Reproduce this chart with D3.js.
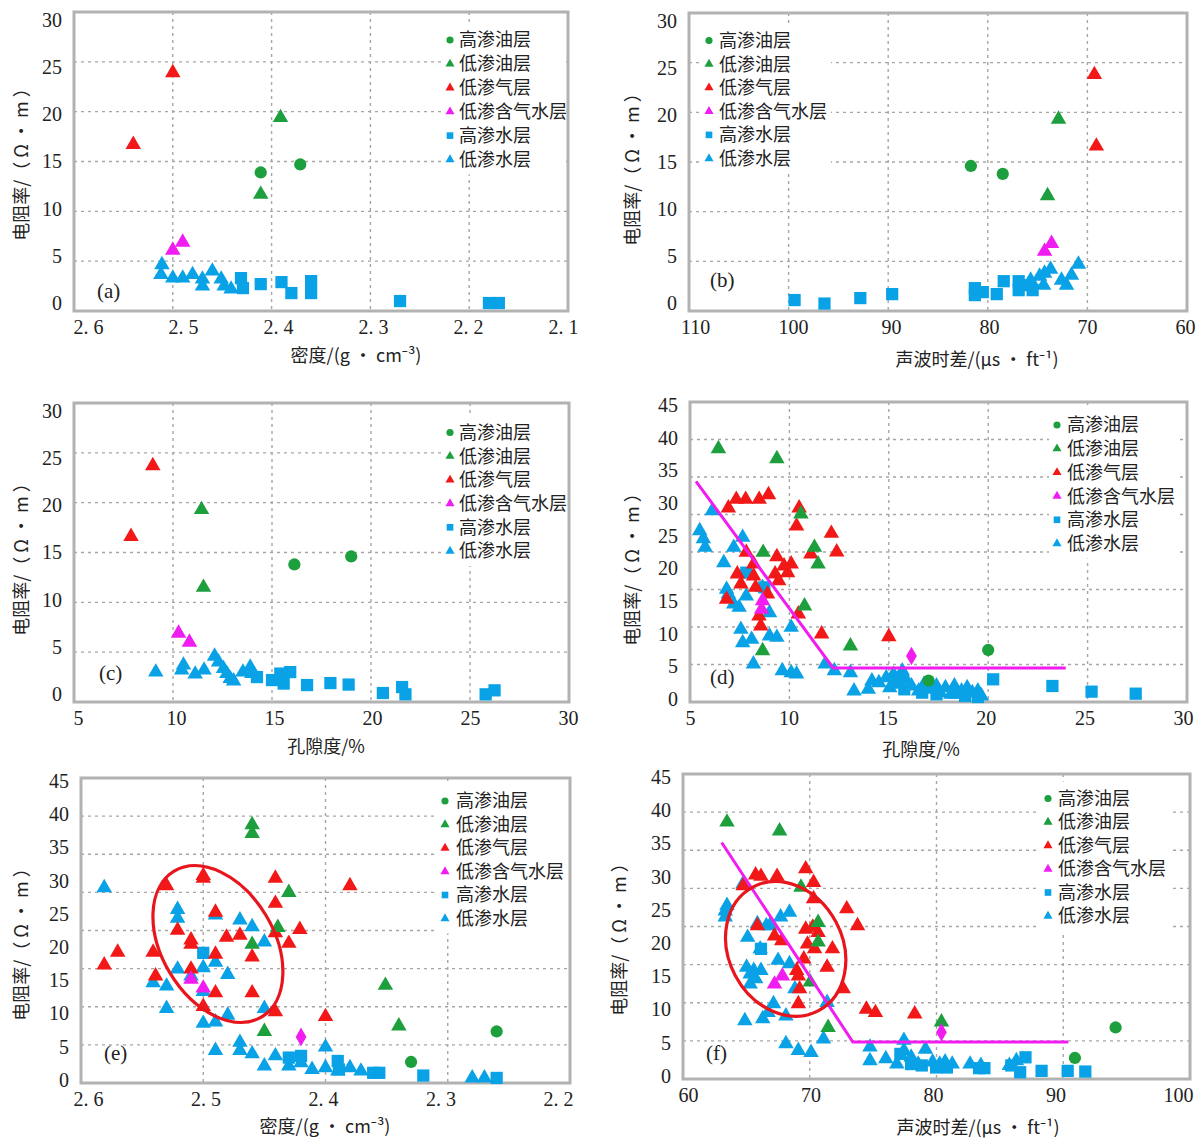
<!DOCTYPE html>
<html>
<head>
<meta charset="utf-8">
<script src="https://cdn.jsdelivr.net/npm/d3@7"></script>
<style>
  body { margin: 0; background: #fff; }
</style>
</head>
<body>
<div id="chart"></div>
<script>
// ---- series / categories ----
const seriesNames = ["高渗油层", "低渗油层", "低渗气层", "低渗含气水层", "高渗水层", "低渗水层"];

// ---- tick labels ----
const densityTicksA = [2.6, 2.5, 2.4, 2.3, 2.2, 2.1];
const densityTicksE = [2.6, 2.5, 2.4, 2.3, 2.2];
const sonicTicksB = [110, 100, 90, 80, 70, 60];
const sonicTicksF = [60, 70, 80, 90, 100];
const porosityTicks = [5, 10, 15, 20, 25, 30];
const resTicks30 = [0, 5, 10, 15, 20, 25, 30];
const resTicks45 = [0, 5, 10, 15, 20, 25, 30, 35, 40, 45];

// ---- (a) density vs resistivity ----
const aHiOil = [[2.411, 13.9], [2.371, 14.7]];
const aLoOil = [[2.391, 19.4], [2.411, 11.7]];
const aLoGas = [[2.50, 23.9], [2.54, 16.7]];
const aGasWater = [[2.50, 6.1], [2.49, 6.9]];
const aHiWater = [[2.431, 3.3], [2.429, 2.3], [2.411, 2.7], [2.39, 2.9], [2.38, 1.8], [2.36, 3.0], [2.36, 1.8],
  [2.27, 1.0], [2.18, 0.8], [2.17, 0.8]];
const aLoWater = [[2.511, 4.65], [2.512, 3.65], [2.50, 3.3], [2.49, 3.3], [2.48, 3.65], [2.47, 3.2], [2.47, 2.5],
  [2.46, 4.0], [2.451, 3.2], [2.448, 2.5], [2.441, 2.2]];

// ---- (b) sonic vs resistivity ----
const bHiOil = [[81.7, 14.6], [78.5, 13.8]];
const bLoOil = [[72.9, 19.3], [74.0, 11.6]];
const bLoGas = [[69.3, 23.8], [69.1, 16.6]];
const bGasWater = [[74.3, 6.0], [73.6, 6.8]];
const bHiWater = [[99.4, 1.1], [96.4, 0.75], [92.8, 1.3], [89.6, 1.7], [81.3, 2.3], [81.3, 1.6], [80.5, 1.9],
  [79.1, 1.7], [78.4, 3.0], [76.9, 3.0], [76.9, 2.1], [76.0, 2.6], [75.5, 2.1]];
const bLoWater = [[75.7, 3.1], [74.8, 3.5], [74.3, 3.8], [73.7, 4.2], [74.4, 2.6], [72.6, 3.1], [72.1, 2.6],
  [71.6, 3.6], [70.9, 4.7]];

// ---- (c) porosity vs resistivity ----
const cHiOil = [[16.13, 13.8], [19.0, 14.6]];
const cLoOil = [[11.44, 19.3], [11.54, 11.5]];
const cLoGas = [[8.98, 23.7], [7.88, 16.6]];
const cGasWater = [[10.28, 6.9], [10.83, 6.0]];
const cHiWater = [[14.24, 2.5], [15.0, 2.2], [15.42, 2.85], [15.59, 1.85], [15.92, 3.0], [16.77, 1.7], [17.95, 1.9],
  [18.87, 1.75], [20.6, 0.9], [21.57, 1.5], [21.74, 0.77], [25.79, 0.77], [26.24, 1.17]];
const cLoWater = [[9.13, 3.0], [10.53, 3.7], [10.44, 3.2], [11.12, 2.8], [11.57, 3.2], [12.10, 4.6], [12.30, 4.0],
  [12.55, 3.35], [12.72, 2.85], [12.89, 2.35], [13.06, 2.1], [13.53, 3.0], [13.9, 3.5], [13.98, 2.85]];

// ---- (d) porosity vs resistivity, full set ----
const dHiOil = [[20.0, 7.8], [17.0, 3.2]];
const dLoOil = [[6.43, 38.0], [9.37, 36.5], [8.68, 22.45], [10.58, 28.2], [11.26, 23.2], [11.44, 20.7],
  [10.76, 14.4], [8.65, 7.7], [13.07, 8.4]];
const dLoGas = [[6.93, 29.1], [7.33, 30.4], [7.80, 30.4], [8.48, 30.4], [8.95, 31.1], [10.49, 29.1], [10.36, 26.4],
  [12.11, 25.3], [12.38, 22.5], [11.08, 22.2], [9.37, 21.8], [9.73, 20.4], [10.09, 20.7], [9.91, 19.4], [9.28, 19.2],
  [9.46, 18.2], [7.38, 19.2], [7.56, 17.7], [8.2, 20.7], [8.3, 17.2], [7.83, 22.45], [8.9, 16.2], [8.47, 12.9],
  [8.56, 11.4], [10.45, 13.2], [11.62, 10.2], [15.0, 9.8], [6.84, 15.4], [8.2, 18.9]];
const dGasWater = [[8.65, 15.2], [8.6, 13.9]];
const dGasWaterDiamond = [[16.14, 6.9]];
const dHiWater = [[7.83, 19.4], [8.74, 17.2], [15.41, 3.65], [15.78, 1.9], [16.68, 1.4], [17.4, 1.15], [18.3, 1.4],
  [18.84, 0.9], [19.48, 0.75], [20.25, 3.4], [23.23, 2.4], [25.2, 1.55], [27.42, 1.25]];
const dLoWater = [[5.49, 25.7], [5.67, 24.5], [5.76, 23.2], [6.12, 28.7], [6.70, 20.9], [7.20, 23.2], [7.65, 24.7],
  [6.84, 16.9], [6.93, 16.2], [7.20, 14.7], [7.47, 14.2], [7.83, 15.9], [7.56, 10.9], [7.65, 8.9], [8.10, 9.4],
  [8.19, 5.7], [9.0, 13.4], [9.0, 9.9], [9.37, 9.7], [8.65, 17.2], [9.64, 4.7], [10.09, 4.4], [10.36, 4.2],
  [10.09, 11.2], [11.8, 5.7], [12.26, 4.7], [13.07, 4.4], [13.25, 1.65], [13.97, 1.9], [14.15, 3.15], [14.5, 2.9],
  [14.87, 3.65], [15.05, 2.15], [15.23, 4.15], [15.41, 2.65], [15.68, 4.66], [15.86, 3.4], [16.14, 2.4], [16.5, 1.65],
  [16.77, 2.65], [17.13, 1.9], [17.4, 2.4], [17.58, 1.4], [17.85, 2.15], [18.12, 1.15], [18.3, 2.4], [18.66, 1.65],
  [18.94, 2.15], [19.2, 1.4], [19.48, 1.65], [19.66, 0.9]];
const dCutLine = [[5.3, 33.1], [12.2, 5.1], [23.9, 5.1]];

// ---- (e) density vs resistivity, full set ----
const eHiOil = [[2.26, 7.6], [2.33, 3.1]];
const eLoOil = [[2.46, 38.1], [2.46, 36.8], [2.430, 28.1], [2.439, 22.95], [2.46, 20.45], [2.351, 14.4],
  [2.340, 8.4], [2.450, 7.6]];
const eLoGas = [[2.581, 17.4], [2.570, 19.3], [2.541, 19.3], [2.539, 15.8], [2.530, 29.1], [2.521, 22.55],
  [2.510, 21.1], [2.510, 20.45], [2.510, 16.8], [2.50, 30.6], [2.50, 30.2], [2.49, 25.2], [2.49, 19.0], [2.49, 13.3],
  [2.50, 11.3], [2.481, 21.5], [2.470, 21.8], [2.460, 18.6], [2.460, 13.3], [2.441, 30.2], [2.441, 26.5],
  [2.441, 22.15], [2.430, 20.6], [2.421, 22.65], [2.441, 10.5], [2.40, 9.8], [2.380, 29.1]];
const eGasWater = [[2.510, 15.3], [2.50, 14.0]];
const eGasWaterDiamond = [[2.420, 6.8]];
const eHiWater = [[2.50, 19.2], [2.430, 3.75], [2.420, 4.0], [2.390, 3.25], [2.389, 2.0], [2.361, 1.5],
  [2.356, 1.5], [2.320, 1.1], [2.260, 0.75]];
const eLoWater = [[2.581, 28.8], [2.521, 25.6], [2.521, 24.3], [2.541, 14.8], [2.530, 14.3], [2.530, 11.0],
  [2.521, 16.8], [2.510, 15.8], [2.50, 17.0], [2.50, 13.5], [2.49, 24.8], [2.49, 17.8], [2.480, 16.0], [2.470, 24.05],
  [2.460, 23.05], [2.450, 20.8], [2.450, 11.0], [2.480, 10.0], [2.50, 8.8], [2.49, 9.0], [2.49, 4.8], [2.470, 6.0],
  [2.470, 4.8], [2.460, 4.3], [2.450, 2.5], [2.441, 4.0], [2.430, 2.5], [2.420, 3.0], [2.411, 2.0], [2.40, 5.3],
  [2.40, 2.25], [2.390, 1.75], [2.380, 2.25], [2.371, 1.75], [2.280, 0.75], [2.270, 0.75]];

// ---- (f) sonic vs resistivity, full set ----
const fHiOil = [[94.13, 7.6], [90.92, 3.1]];
const fLoOil = [[63.47, 37.9], [67.62, 36.6], [69.31, 28.3], [70.66, 23.1], [70.66, 20.2], [70.04, 14.3],
  [71.45, 7.6], [80.39, 8.4]];
const fLoGas = [[64.74, 28.5], [65.73, 30.1], [66.15, 29.9], [67.42, 29.9], [69.68, 31.0], [70.30, 29.0],
  [70.30, 26.6], [72.92, 25.1], [73.77, 22.6], [65.87, 22.6], [67.22, 21.1], [67.79, 20.4], [69.68, 22.1],
  [70.24, 22.4], [70.66, 21.6], [69.82, 19.9], [70.38, 19.2], [71.79, 19.2], [71.37, 16.5], [68.97, 16.0],
  [69.53, 17.7], [69.2, 13.3], [69.1, 11.1], [72.64, 13.3], [74.47, 10.3], [75.18, 9.8], [78.28, 9.6], [69.1, 15.2]];
const fGasWater = [[67.22, 14.0], [67.84, 15.2]];
const fGasWaterDiamond = [[80.39, 6.9]];
const fHiWater = [[66.15, 19.2], [77.15, 3.7], [78.0, 2.2], [78.84, 2.0], [79.97, 1.7], [80.82, 1.7], [83.36, 1.6],
  [83.78, 1.6], [85.9, 2.0], [86.6, 1.0], [87.02, 3.2], [88.29, 1.2], [90.35, 1.2], [91.74, 1.1]];
const fLoWater = [[63.33, 24.8], [63.47, 25.6], [63.33, 23.9], [64.74, 28.8], [65.1, 20.9], [65.02, 16.5],
  [65.3, 15.5], [65.58, 16.0], [66.15, 16.0], [65.73, 14.8], [65.3, 14.0], [65.87, 22.9], [66.57, 22.6],
  [66.85, 22.6], [66.09, 19.2], [67.7, 23.9], [68.4, 24.6], [67.5, 17.5], [68.4, 17.0], [68.83, 13.3], [67.14, 11.1],
  [64.88, 8.6], [66.29, 8.9], [66.71, 9.8], [68.12, 9.3], [68.12, 5.2], [69.1, 4.2], [70.1, 3.9], [71.08, 5.9],
  [71.37, 11.3], [74.75, 4.7], [74.75, 2.7], [76.0, 3.0], [76.87, 2.2], [77.43, 5.7], [77.43, 4.2], [78.0, 3.2],
  [78.56, 2.2], [79.13, 4.4], [79.69, 2.5], [80.25, 2.2], [80.68, 2.5], [81.24, 2.2], [82.65, 2.2], [83.5, 2.0],
  [85.75, 2.0], [86.3, 2.7]];
const fCutLine = [[63.05, 34.9], [73.4, 5.45], [90.4, 5.45]];

// ---- styles ----
const seriesColors = ["#1d9f3e", "#1d9f3e", "#f21818", "#f01cf0", "#0aa2e6", "#0aa2e6"];
const seriesShapes = [d3.symbolCircle, d3.symbolTriangle, d3.symbolTriangle, d3.symbolTriangle, d3.symbolSquare, d3.symbolTriangle];
const markSizes = [118, 104, 104, 104, 150, 104];
const legendSizes = [40, 36, 36, 36, 44, 36];
const drawOrder = [4, 5, 2, 1, 3, 0];

const cjk = "'Noto Sans CJK SC', 'Noto Sans', sans-serif";
const serif = "'Liberation Serif', 'DejaVu Serif', serif";
const decFmt = d => d3.format(".1f")(d).replace(".", ". ");
const intFmt = d3.format("d");
const grid45 = d3.range(1, 8).map(k => k * 45 / 8);

const densityTitle = "密度/(g • cm⁻³)";
const sonicTitle = "声波时差/(μs • ft⁻¹)";
const porosityTitle = "孔隙度/%";
const resTitle = "电阻率/（ Ω • m ）";

const panels = [
  { tag: "(a)", left: 74, right: 568, top: 12, bottom: 311, xDomain: [2.6, 2.1], yDomain: [0, 30],
    xTicks: densityTicksA, yTicks: resTicks30, yGrid: resTicks30.slice(1, -1), xFmt: decFmt,
    series: [aHiOil, aLoOil, aLoGas, aGasWater, aHiWater, aLoWater], diamond: [],
    xTitle: densityTitle, xTitlePos: [356, 356], yTitlePos: [22, 160], legend: [450, 459, 40, 23.9],
    tagPos: [97, 291], yInset: 8, xInset: [14, -5] },
  { tag: "(b)", left: 689, right: 1187, top: 13, bottom: 311, xDomain: [110, 60], yDomain: [0, 30],
    xTicks: sonicTicksB, yTicks: resTicks30, yGrid: resTicks30.slice(1, -1), xFmt: intFmt,
    series: [bHiOil, bLoOil, bLoGas, bGasWater, bHiWater, bLoWater], diamond: [],
    xTitle: sonicTitle, xTitlePos: [977, 360], yTitlePos: [633, 165], legend: [709, 719, 40.5, 23.6],
    tagPos: [710, 280], yInset: 8, xInset: [6, -2] },
  { tag: "(c)", left: 74, right: 569, top: 403, bottom: 702, xDomain: [5, 30], yDomain: [0, 30],
    xTicks: porosityTicks, yTicks: resTicks30, yGrid: resTicks30.slice(1, -1), xFmt: intFmt,
    series: [cHiOil, cLoOil, cLoGas, cGasWater, cHiWater, cLoWater], diamond: [],
    xTitle: porosityTitle, xTitlePos: [326, 747], yTitlePos: [22, 555], legend: [450, 459, 432.5, 23.7],
    tagPos: [99, 673], yInset: 8, xInset: [4, -1] },
  { tag: "(d)", left: 690, right: 1187, top: 402, bottom: 702, xDomain: [5, 30], yDomain: [0, 45],
    xTicks: porosityTicks, yTicks: resTicks45, yGrid: grid45, xFmt: intFmt,
    series: [dHiOil, dLoOil, dLoGas, dGasWater, dHiWater, dLoWater], diamond: dGasWaterDiamond, cut: dCutLine,
    xTitle: porosityTitle, xTitlePos: [921, 750], yTitlePos: [633, 565], legend: [1057, 1067, 425, 23.7],
    tagPos: [710, 677], yInset: 3, xInset: [0, -4] },
  { tag: "(e)", left: 81, right: 570, top: 778, bottom: 1083, xDomain: [2.6, 2.2], yDomain: [0, 45],
    xTicks: densityTicksE, yTicks: resTicks45, yGrid: grid45, xFmt: decFmt,
    series: [eHiOil, eLoOil, eLoGas, eGasWater, eHiWater, eLoWater], diamond: eGasWaterDiamond,
    ellipse: { c: [2.488, 20.5], rx: 85, ry: 56, rot: 59 },
    xTitle: densityTitle, xTitlePos: [325, 1127], yTitlePos: [22, 940], legend: [445, 456, 801, 23.5],
    tagPos: [104, 1053], yInset: 3, xInset: [7, -12] },
  { tag: "(f)", left: 683, right: 1190, top: 774, bottom: 1079, xDomain: [60, 100], yDomain: [0, 45],
    xTicks: sonicTicksF, yTicks: resTicks45, yGrid: grid45, xFmt: intFmt,
    series: [fHiOil, fLoOil, fLoGas, fGasWater, fHiWater, fLoWater], diamond: fGasWaterDiamond, cut: fCutLine,
    ellipse: { c: [68.1, 19.2], rx: 70, ry: 57, rot: 62 },
    xTitle: sonicTitle, xTitlePos: [978, 1128], yTitlePos: [620, 935], legend: [1048, 1058, 798.5, 23.5],
    tagPos: [706, 1053], yInset: 3, xInset: [5, -12] }
];

const svg = d3.select("#chart").append("svg")
  .attr("width", 1204)
  .attr("height", 1139)
  .style("background", "#fff");

panels.forEach(p => {
  const g = svg.append("g");
  const x = d3.scaleLinear().domain(p.xDomain).range([p.left, p.right]);
  const y = d3.scaleLinear().domain(p.yDomain).range([p.bottom, p.top]);
  // the printed labels sit slightly inside the grid
  const xLab = x.copy().range([p.left + p.xInset[0], p.right + p.xInset[1]]);
  const yLab = y.copy().range([p.bottom - p.yInset, p.top + p.yInset]);

  // grid
  g.selectAll(".vgrid")
    .data(p.xTicks.slice(1, -1))
    .enter().append("line")
    .attr("x1", d => x(d)).attr("x2", d => x(d))
    .attr("y1", p.top).attr("y2", p.bottom)
    .style("stroke", "#a6a6a6").style("stroke-width", 1.4).style("stroke-dasharray", "3,4");
  g.selectAll(".hgrid")
    .data(p.yGrid)
    .enter().append("line")
    .attr("x1", p.left).attr("x2", p.right)
    .attr("y1", d => y(d)).attr("y2", d => y(d))
    .style("stroke", "#a6a6a6").style("stroke-width", 1.4).style("stroke-dasharray", "3,4");

  // legend box (white, hides the grid behind it)
  const [lmx, ltx, ly0, lstep] = p.legend;
  g.append("rect")
    .attr("x", lmx - 8).attr("y", ly0 - 17)
    .attr("width", Math.min(ltx - lmx + 120, p.right - lmx + 6)).attr("height", lstep * 5 + 32)
    .style("fill", "#fff");

  // frame
  g.append("rect")
    .attr("x", p.left).attr("y", p.top)
    .attr("width", p.right - p.left).attr("height", p.bottom - p.top)
    .style("fill", "none").style("stroke", "#b2b2b2").style("stroke-width", 3);

  // axes
  const xAxis = g.append("g")
    .attr("transform", `translate(0,${p.bottom})`)
    .call(d3.axisBottom(xLab).tickValues(p.xTicks).tickFormat(p.xFmt).tickSize(0).tickPadding(9));
  const yAxis = g.append("g")
    .attr("transform", `translate(${p.left},0)`)
    .call(d3.axisLeft(yLab).tickValues(p.yTicks).tickFormat(intFmt).tickSize(0).tickPadding(12));
  [xAxis, yAxis].forEach(a => {
    a.select(".domain").remove();
    a.selectAll("text").style("font-family", serif).style("font-size", "20px").style("fill", "#222");
  });

  // titles
  g.append("text")
    .attr("x", p.xTitlePos[0]).attr("y", p.xTitlePos[1])
    .attr("dy", "0.35em")
    .style("text-anchor", "middle")
    .style("font-family", cjk).style("font-size", "18px").style("fill", "#222")
    .text(p.xTitle);
  g.append("text")
    .attr("transform", `translate(${p.yTitlePos[0]},${p.yTitlePos[1]}) rotate(-90)`)
    .attr("dy", "0.35em")
    .style("text-anchor", "middle")
    .style("font-family", cjk).style("font-size", "18px").style("fill", "#222")
    .text(resTitle);

  // points
  drawOrder.forEach(i => {
    g.selectAll(".pt" + i)
      .data(p.series[i])
      .enter().append("path")
      .attr("transform", d => `translate(${x(d[0])},${y(d[1])})`)
      .attr("d", d3.symbol().type(seriesShapes[i]).size(markSizes[i]))
      .style("fill", seriesColors[i]);
  });
  g.selectAll(".dia")
    .data(p.diamond)
    .enter().append("path")
    .attr("transform", d => `translate(${x(d[0])},${y(d[1])})`)
    .attr("d", d3.symbol().type(d3.symbolDiamond).size(100))
    .style("fill", seriesColors[3]);

  // cut-off line and ellipse annotations
  if (p.cut) {
    g.append("path")
      .datum(p.cut)
      .attr("d", d3.line().x(d => x(d[0])).y(d => y(d[1])))
      .style("fill", "none").style("stroke", "#f01cf0").style("stroke-width", 3);
  }
  if (p.ellipse) {
    const e = p.ellipse;
    g.append("ellipse")
      .attr("transform", `translate(${x(e.c[0])},${y(e.c[1])}) rotate(${e.rot})`)
      .attr("rx", e.rx).attr("ry", e.ry)
      .style("fill", "none").style("stroke", "#e8161c").style("stroke-width", 3.2);
  }

  // legend entries
  seriesNames.forEach((name, i) => {
    const ly = ly0 + i * lstep;
    g.append("path")
      .attr("transform", `translate(${lmx},${ly})`)
      .attr("d", d3.symbol().type(seriesShapes[i]).size(legendSizes[i]))
      .style("fill", seriesColors[i]);
    g.append("text")
      .attr("x", ltx).attr("y", ly)
      .attr("dy", "0.36em")
      .style("font-family", cjk).style("font-size", "18px").style("fill", "#222")
      .text(name);
  });

  // panel tag
  g.append("text")
    .attr("x", p.tagPos[0]).attr("y", p.tagPos[1])
    .attr("dy", "0.35em")
    .style("font-family", serif).style("font-size", "21px").style("fill", "#222")
    .text(p.tag);
});
</script>
</body>
</html>
